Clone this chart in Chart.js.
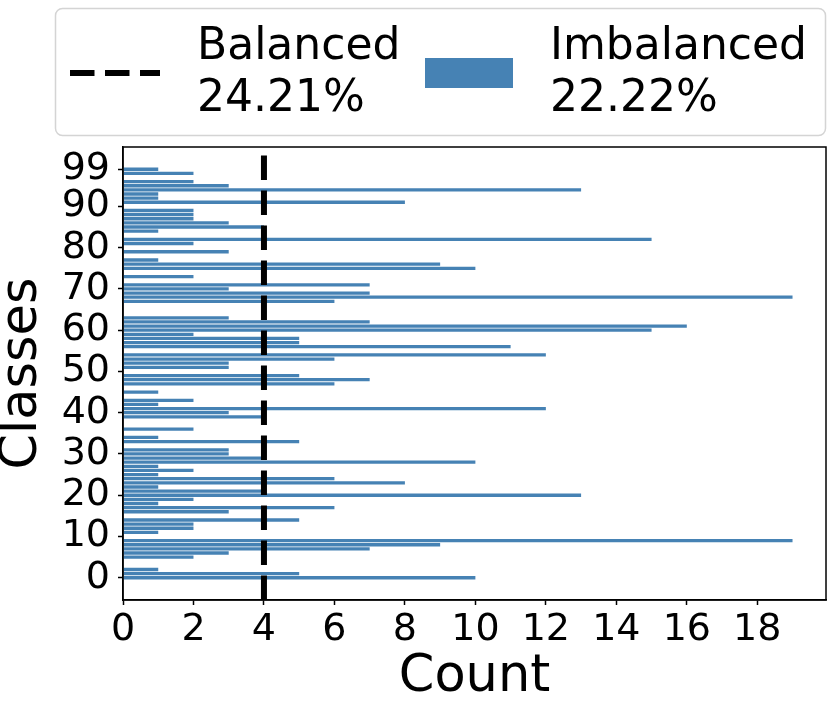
<!DOCTYPE html>
<html>
<head>
<meta charset="utf-8">
<script src="https://cdn.jsdelivr.net/npm/chart.js@4/dist/chart.umd.min.js"></script>
<style>
  html, body { margin: 0; padding: 0; background: #fff; }
  canvas { display: block; }
</style>
</head>
<body>
<canvas id="c" width="830" height="712"></canvas>
<script>
// ---- data ----
const classes = Array.from({length: 100}, (_, i) => i);
const counts = [
  10, 5, 1, 0, 0, 2, 3, 7, 9, 19,
  0, 1, 2, 2, 5, 0, 3, 6, 1, 2,
  13, 4, 1, 8, 6, 1, 2, 1, 10, 4,
  3, 3, 0, 5, 1, 0, 2, 0, 0, 4,
  3, 12, 1, 2, 0, 1, 0, 6, 7, 5,
  0, 3, 3, 6, 12, 0, 11, 5, 5, 2,
  15, 16, 7, 3, 0, 0, 0, 6, 19, 7,
  3, 7, 0, 2, 0, 10, 9, 1, 0, 3,
  0, 2, 15, 0, 1, 4, 3, 2, 2, 2,
  0, 8, 1, 1, 13, 3, 2, 0, 2, 1
];
const balancedCount = 4;
const yTickValues = [0, 10, 20, 30, 40, 50, 60, 70, 80, 90, 99];
const xTickValues = [0, 2, 4, 6, 8, 10, 12, 14, 16, 18];
const legendBalanced = ['Balanced', '24.21%'];
const legendImbalanced = ['Imbalanced', '22.22%'];

const Y_MIN = -5.39, Y_MAX = 104.39;
const X_MIN = 0, X_MAX = 19.95;
const BAR_COLOR = '#4682b4';
const FONT = 'DejaVu Sans';

Chart.defaults.font.family = FONT;
Chart.defaults.color = '#000';

const framePlugin = {
  id: 'frame',
  afterDatasetsDraw(chart) {
    const {ctx, chartArea: a} = chart;
    ctx.save();
    ctx.strokeStyle = '#000';
    ctx.lineWidth = 1.5;
    ctx.strokeRect(a.left, a.top, a.right - a.left, a.bottom - a.top);
    ctx.restore();
  }
};

const legendPlugin = {
  id: 'customLegend',
  afterDraw(chart) {
    const ctx = chart.ctx;
    ctx.save();
    ctx.beginPath();
    ctx.roundRect(55.5, 8.5, 770, 127, 7);
    ctx.fillStyle = '#fff';
    ctx.fill();
    ctx.strokeStyle = '#d4d4d4';
    ctx.lineWidth = 1.5;
    ctx.stroke();
    ctx.beginPath();
    ctx.setLineDash([24.5, 10.5]);
    ctx.lineWidth = 6;
    ctx.strokeStyle = '#000';
    ctx.moveTo(70, 73);
    ctx.lineTo(160, 73);
    ctx.stroke();
    ctx.setLineDash([]);
    ctx.fillStyle = BAR_COLOR;
    ctx.fillRect(425, 58, 88, 30);
    ctx.fillStyle = '#000';
    ctx.font = '44px "' + FONT + '"';
    ctx.textBaseline = 'alphabetic';
    ctx.textAlign = 'left';
    ctx.fillText(legendBalanced[0], 197, 59);
    ctx.fillText(legendBalanced[1], 197, 111);
    ctx.fillText(legendImbalanced[0], 550, 59);
    ctx.fillText(legendImbalanced[1], 550, 111);
    ctx.restore();
  }
};

new Chart(document.getElementById('c'), {
  type: 'bar',
  data: {
    datasets: [
      {
        type: 'bar',
        label: legendImbalanced.join(' '),
        data: classes.map((c, i) => ({x: counts[i], y: c})),
        backgroundColor: BAR_COLOR,
        borderWidth: 0,
        barPercentage: 0.8,
        categoryPercentage: 1.0,
        order: 2
      },
      {
        type: 'line',
        label: legendBalanced.join(' '),
        data: [{x: balancedCount, y: Y_MIN}, {x: balancedCount, y: Y_MAX}],
        borderColor: '#000',
        borderWidth: 6,
        borderDash: [24.5, 10.5],
        borderCapStyle: 'butt',
        pointRadius: 0,
        fill: false,
        tension: 0,
        order: 1
      }
    ]
  },
  options: {
    indexAxis: 'y',
    responsive: false,
    animation: false,
    layout: { padding: { top: 147, right: 4, left: 0, bottom: 0 } },
    plugins: {
      legend: { display: false },
      tooltip: { enabled: false }
    },
    scales: {
      x: {
        type: 'linear',
        position: 'bottom',
        min: X_MIN,
        max: X_MAX,
        offset: false,
        afterBuildTicks: s => { s.ticks = xTickValues.map(v => ({value: v})); },
        afterFit: s => { s.height = 112; },
        ticks: { font: { size: 38 }, color: '#000', padding: 2, maxRotation: 0, autoSkip: false },
        grid: { offset: false, drawOnChartArea: false, drawTicks: true, tickLength: 5, tickColor: '#000', tickWidth: 1.5 },
        border: { display: true, color: '#000', width: 1.5 },
        title: { display: true, text: 'Count', color: '#000', font: { size: 51, lineHeight: 1.2 }, padding: { top: 0, bottom: 4 } }
      },
      y: {
        type: 'linear',
        position: 'left',
        min: Y_MIN,
        max: Y_MAX,
        offset: false,
        afterBuildTicks: s => { s.ticks = yTickValues.map(v => ({value: v})); },
        afterFit: s => { s.width = 123; },
        ticks: { font: { size: 38 }, color: '#000', padding: 8, autoSkip: false },
        grid: { offset: false, drawOnChartArea: false, drawTicks: true, tickLength: 5, tickColor: '#000', tickWidth: 1.5 },
        border: { display: true, color: '#000', width: 1.5 },
        title: { display: true, text: 'Classes', color: '#000', font: { size: 51, lineHeight: 0.9 }, padding: { top: 0, bottom: 0 } }
      }
    }
  },
  plugins: [framePlugin, legendPlugin]
});
</script>
</body>
</html>
